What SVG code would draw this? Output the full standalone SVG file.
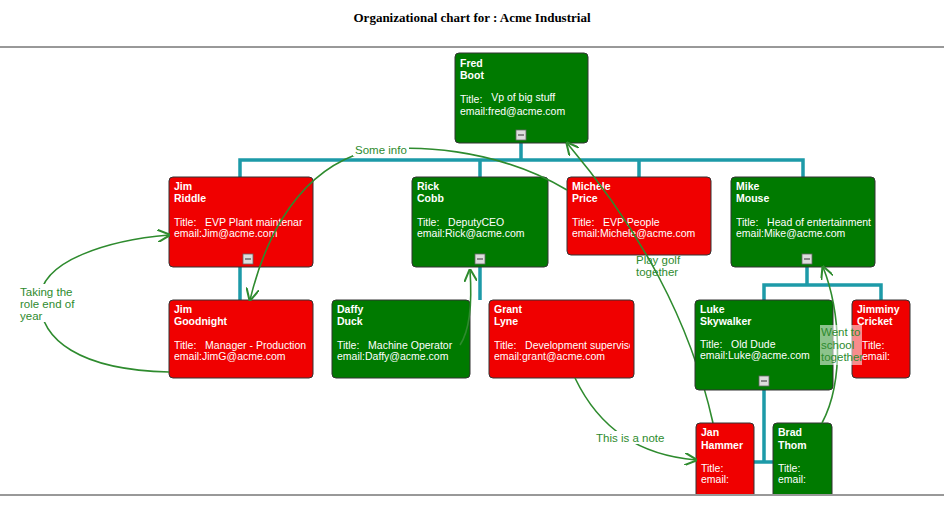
<svg xmlns="http://www.w3.org/2000/svg" width="944" height="517" viewBox="0 0 944 517">
<style>
.n{stroke:#333;stroke-width:1}
.g{fill:#007a00}.r{fill:#f00000}
text{font-family:"Liberation Sans",Arial,sans-serif;fill:#fff;font-size:10.5px;white-space:pre}
.b{font-weight:bold}
.c{fill:none;stroke:#1d9aa8;stroke-width:3.5}
.a{fill:none;stroke:#2e8b2e;stroke-width:1.6}
.l{fill:#2e8b2e;font-size:11.5px}
.m{fill:#ddd;stroke:#666;stroke-width:.8}
</style>
<defs>
<marker id="ar" viewBox="0 0 10 10" refX="9" refY="5" markerWidth="8" markerHeight="8" orient="auto"><path d="M0,0L10,5L0,10" fill="none" stroke="#2e8b2e" stroke-width="1.6"/></marker>
<clipPath id="cp"><rect x="0" y="48" width="944" height="446"/></clipPath>
</defs>
<rect width="944" height="517" fill="#fff"/>
<text x="472" y="22" text-anchor="middle" style="font-family:'Liberation Serif',serif;font-weight:bold;font-size:13px;fill:#000">Organizational chart for : Acme Industrial</text>
<line x1="0" y1="47" x2="944" y2="47" stroke="#333"/>
<line x1="0" y1="495" x2="944" y2="495" stroke="#333"/>
<g clip-path="url(#cp)">
<g id="connectors">
<path class="c" d="M521,143V160M240,177V160H803V177M480,160V177M639,160V177M240,267V300M480,267V300M807,267V285M764,300V285H881V300M764,390V462M752,462H775"/>
</g>
<g id="fred"><rect class="n g" x="455" y="53" width="133" height="90" rx="4"/><text class="b" x="460" y="67">Fred</text><text class="b" x="460" y="79">Boot</text><text x="460" y="103">Title:   <tspan dy="-2">Vp of big stuff</tspan></text><text x="460" y="115">email:fred@acme.com</text><rect class="m" x="516" y="130" width="10" height="10"/><line x1="518" y1="135" x2="524" y2="135" stroke="#333"/></g>
<g id="jimriddle"><rect class="n r" x="169" y="177" width="144" height="90" rx="4"/><text class="b" x="174" y="190">Jim</text><text class="b" x="174" y="202">Riddle</text><text x="174" y="226">Title:   EVP Plant maintenar</text><text x="174" y="237">email:Jim@acme.com</text><rect class="m" x="243" y="254" width="10" height="10"/><line x1="245" y1="259" x2="251" y2="259" stroke="#333"/></g>
<g id="rick"><rect class="n g" x="412" y="177" width="136" height="90" rx="4"/><text class="b" x="417" y="190">Rick</text><text class="b" x="417" y="202">Cobb</text><text x="417" y="226">Title:   DeputyCEO</text><text x="417" y="237">email:Rick@acme.com</text><rect class="m" x="475" y="254" width="10" height="10"/><line x1="477" y1="259" x2="483" y2="259" stroke="#333"/></g>
<g id="michele"><rect class="n r" x="567" y="177" width="144" height="78" rx="4"/><text class="b" x="572" y="190">Michele</text><text class="b" x="572" y="202">Price</text><text x="572" y="226">Title:   EVP People</text><text x="572" y="237">email:Michele@acme.com</text></g>
<g id="mike"><rect class="n g" x="731" y="177" width="144" height="90" rx="4"/><text class="b" x="736" y="190">Mike</text><text class="b" x="736" y="202">Mouse</text><svg x="736" y="215" width="136" height="30" overflow="hidden"><text x="0" y="11">Title:   Head of entertainment</text><text x="0" y="22">email:Mike@acme.com</text></svg><rect class="m" x="802" y="254" width="10" height="10"/><line x1="804" y1="259" x2="810" y2="259" stroke="#333"/></g>
<g id="jimgoodnight"><rect class="n r" x="169" y="300" width="144" height="78" rx="4"/><text class="b" x="174" y="313">Jim</text><text class="b" x="174" y="325">Goodnight</text><svg x="174" y="338" width="136" height="30" overflow="hidden"><text x="0" y="11">Title:   Manager - Production</text><text x="0" y="22">email:JimG@acme.com</text></svg></g>
<g id="daffy"><rect class="n g" x="332" y="300" width="138" height="78" rx="4"/><text class="b" x="337" y="313">Daffy</text><text class="b" x="337" y="325">Duck</text><text x="337" y="349">Title:   Machine Operator</text><text x="337" y="360">email:Daffy@acme.com</text></g>
<g id="grant"><rect class="n r" x="489" y="300" width="145" height="78" rx="4"/><text class="b" x="494" y="313">Grant</text><text class="b" x="494" y="325">Lyne</text><svg x="494" y="338" width="136" height="30" overflow="hidden"><text x="0" y="11">Title:   Development supervisor</text><text x="0" y="22">email:grant@acme.com</text></svg></g>
<g id="jimminy"><rect class="n r" x="852" y="300" width="58" height="78" rx="4"/><text class="b" x="857" y="313">Jimminy</text><text class="b" x="857" y="325">Cricket</text><text x="862" y="349">Title:</text><text x="862" y="360">email:</text></g>
<path class="a" d="M713,423C690,320 640,230 567,143" marker-end="url(#ar)"/>
<g id="luke"><rect class="n g" x="695" y="300" width="138" height="90" rx="4"/><text class="b" x="700" y="313">Luke</text><text class="b" x="700" y="325">Skywalker</text><text x="700" y="348">Title:   Old Dude</text><text x="700" y="359">email:Luke@acme.com</text><rect class="m" x="759" y="376" width="10" height="10"/><line x1="761" y1="381" x2="767" y2="381" stroke="#333"/></g>
<g id="jan"><rect class="n r" x="696" y="423" width="58" height="90" rx="4"/><text class="b" x="701" y="436">Jan</text><text class="b" x="701" y="449">Hammer</text><text x="701" y="472">Title:</text><text x="701" y="483">email:</text></g>
<g id="brad"><rect class="n g" x="773" y="423" width="59" height="90" rx="4"/><text class="b" x="778" y="436">Brad</text><text class="b" x="778" y="449">Thom</text><text x="778" y="472">Title:</text><text x="778" y="483">email:</text></g>
<g id="annotations">
<path class="a" d="M567,190C500,150 410,140 355,155C290,180 262,250 250,300" marker-end="url(#ar)"/>
<rect x="353" y="143" width="56" height="13" fill="#fff"/>
<text class="l" x="355" y="154">Some info</text>
<path class="a" d="M169,372C80,370 40,340 40,300C40,260 110,240 169,235" marker-end="url(#ar)"/>
<rect x="18" y="284" width="58" height="38" fill="#fff"/>
<text class="l" x="20" y="296">Taking the</text><text class="l" x="20" y="308">role end of</text><text class="l" x="20" y="320">year</text>
<path class="a" d="M460,345C470,330 472,300 470,270" marker-end="url(#ar)"/>
<path class="a" d="M575,378C600,430 640,455 696,460" marker-end="url(#ar)"/>
<rect x="594" y="431" width="76" height="13" fill="#fff"/>
<text class="l" x="596" y="442">This is a note</text>
<text class="l" x="636" y="264">Play golf</text><text class="l" x="636" y="276">together</text>
<path class="a" d="M822,423C845,380 840,310 823,267" marker-end="url(#ar)"/>
<rect x="820" y="325" width="42" height="40" fill="#fff" opacity=".55"/>
<text class="l" x="821" y="336">Went to</text><text class="l" x="821" y="349">school</text><text class="l" x="821" y="361">together</text>
</g>
</g>
</svg>
